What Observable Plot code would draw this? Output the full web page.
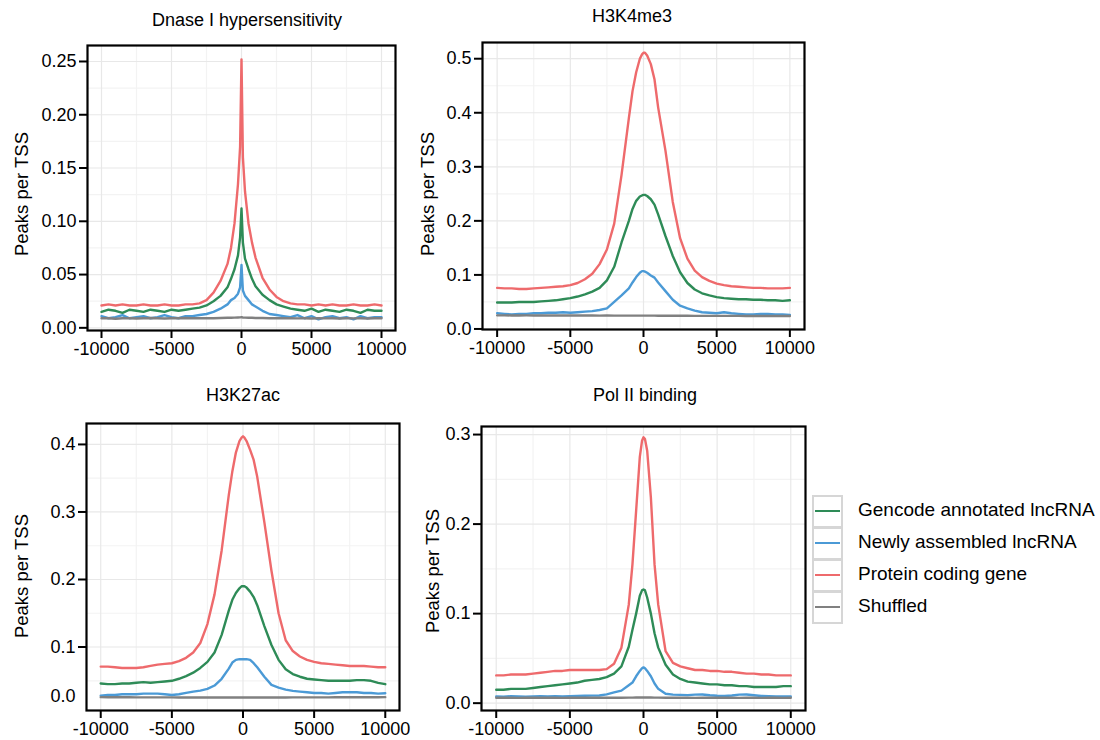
<!DOCTYPE html>
<html><head><meta charset="utf-8">
<script src="https://cdn.jsdelivr.net/npm/d3@7"></script>
<script src="https://cdn.jsdelivr.net/npm/@observablehq/plot@0.6"></script>
<style>
body{margin:0;background:#fff;font-family:"Liberation Sans",Arial,sans-serif;color:#000}
#root{position:relative;width:1100px;height:740px;overflow:hidden;background:#fff}
.panel{position:absolute}
.panel svg{background:transparent}
.title{position:absolute;font-size:18px;transform:translate(-50%,-50%);white-space:nowrap}
.ylab{position:absolute;font-size:18.5px;transform:translate(-50%,-50%) rotate(-90deg);white-space:nowrap}
#legend{position:absolute;left:812px;top:494px}
.lrow{display:flex;align-items:center;height:32px}
.lkey{width:27px;height:29px;border:2px solid #d6d6d6;margin-bottom:-2px;position:relative;background:#fff}
.lkey span{position:absolute;left:1px;right:1px;top:13px;height:2.4px}
.ltext{font-size:19px;margin-left:15px;white-space:nowrap}
</style></head><body><div id="root"></div>
<script>
// Distance from TSS (bp)
const positions = [-10000,-9500,-9000,-8500,-8000,-7500,-7000,-6500,-6000,-5500,-5000,-4500,-4000,-3500,-3000,-2500,-2000,-1500,-1000,
  -750,-500,-250,-100,0,100,250,500,750,
  1000,1500,2000,2500,3000,3500,4000,4500,5000,5500,6000,6500,7000,7500,8000,8500,9000,9500,10000];

const seriesNames = ["Gencode annotated lncRNA","Newly assembled lncRNA","Protein coding gene","Shuffled"];
const seriesColors = ["#2e8b57","#4b9ad6","#ee6a6c","#808080"];
const panelTitles = ["Dnase I hypersensitivity","H3K4me3","H3K27ac","Pol II binding"];
const yAxisLabel = "Peaks per TSS";
const xTicks = [-10000,-5000,0,5000,10000];
const xMinorTicks = [-7500,-2500,2500,7500];

// Dnase I hypersensitivity
const dnaseGencode = [.015,.017,.016,.014,.017,.016,.015,.017,.016,.015,.017,.016,.017,.018,.019,.021,.025,.030,.038,
  .046,.055,.068,.085,.112,.080,.065,.055,.046,
  .039,.031,.026,.022,.020,.018,.017,.016,.018,.015,.017,.016,.015,.017,.016,.014,.017,.016,.016];
const dnaseNewly = [.011,.009,.010,.012,.009,.010,.011,.009,.010,.012,.010,.009,.011,.011,.012,.013,.015,.018,.022,
  .026,.028,.032,.038,.059,.035,.030,.026,.022,
  .020,.016,.013,.012,.011,.010,.012,.009,.011,.008,.010,.011,.009,.010,.008,.011,.009,.010,.010];
const dnaseProtein = [.021,.022,.021,.022,.021,.021,.022,.021,.021,.022,.021,.021,.022,.022,.023,.026,.033,.044,.060,
  .075,.098,.135,.170,.252,.160,.128,.098,.080,
  .066,.047,.036,.029,.025,.023,.022,.022,.021,.022,.021,.022,.021,.021,.022,.021,.021,.022,.021];
const dnaseShuffled = [.009,.009,.0085,.009,.009,.0088,.009,.0092,.009,.0088,.009,.009,.0092,.009,.009,.0091,.009,.0092,.0095,
  .0095,.0096,.0097,.0098,.010,.0097,.0096,.0095,.0094,
  .0093,.0092,.009,.009,.0091,.009,.0089,.009,.0088,.009,.0089,.009,.0088,.009,.0089,.009,.0088,.009,.009];

// H3K4me3
const k4Gencode = [.049,.049,.049,.050,.050,.050,.051,.052,.053,.055,.057,.060,.064,.069,.076,.090,.115,.160,.200,
  .222,.237,.245,.247,.248,.248,.246,.240,.230,
  .212,.172,.135,.105,.085,.073,.066,.062,.059,.057,.056,.055,.055,.054,.054,.053,.053,.052,.053];
const k4Newly = [.029,.028,.027,.028,.028,.029,.029,.030,.030,.031,.030,.031,.032,.033,.035,.038,.050,.062,.075,
  .086,.096,.104,.107,.107,.106,.104,.099,.095,
  .086,.070,.054,.043,.038,.034,.031,.030,.029,.031,.029,.028,.027,.027,.028,.028,.027,.027,.026];
const k4Protein = [.076,.075,.075,.074,.074,.075,.076,.077,.078,.079,.081,.085,.092,.102,.120,.147,.195,.285,.390,
  .440,.475,.500,.508,.511,.511,.506,.490,.462,
  .410,.330,.235,.168,.130,.108,.096,.089,.084,.081,.079,.078,.077,.076,.076,.075,.075,.075,.076];
const k4Shuffled = [.0252,.0251,.025,.025,.0251,.025,.025,.0249,.025,.0249,.0248,.0249,.0248,.0248,.0247,.0248,.0247,.0247,.0246,
  .0246,.0246,.0246,.0246,.0246,.0246,.0246,.0246,.0246,
  .0245,.0245,.0244,.0244,.0244,.0243,.0243,.0243,.0242,.0242,.0242,.0242,.0241,.0241,.0241,.024,.024,.024,.024];

// H3K27ac
const k27Gencode = [.046,.045,.045,.046,.046,.047,.048,.047,.048,.049,.050,.053,.057,.062,.069,.078,.092,.118,.154,
  .170,.180,.187,.190,.190,.190,.188,.182,.174,
  .162,.131,.103,.081,.067,.060,.056,.053,.052,.051,.050,.050,.050,.050,.051,.051,.050,.047,.045];
const k27Newly = [.028,.029,.029,.030,.030,.030,.031,.031,.031,.030,.029,.030,.032,.034,.0355,.038,.043,.053,.068,
  .077,.081,.082,.082,.082,.082,.082,.081,.076,
  .070,.056,.044,.040,.037,.035,.034,.033,.032,.032,.031,.032,.033,.033,.033,.032,.032,.031,.0316];
const k27Protein = [.071,.071,.070,.069,.069,.069,.070,.072,.074,.075,.076,.079,.084,.092,.106,.134,.178,.243,.325,
  .360,.388,.405,.410,.412,.410,.405,.392,.377,
  .352,.285,.213,.150,.110,.094,.086,.081,.078,.076,.075,.074,.073,.072,.072,.072,.071,.070,.070];
const k27Shuffled = [.0258,.0257,.0257,.0256,.0256,.0255,.0255,.0255,.0254,.0254,.0254,.0253,.0253,.0253,.0252,.0252,.0252,.0252,.0252,
  .0252,.0252,.0252,.0252,.0252,.0252,.0252,.0252,.0252,
  .0252,.0252,.0253,.0253,.0253,.0254,.0254,.0254,.0255,.0255,.0255,.0256,.0256,.0256,.0257,.0257,.0257,.0257,.0258];

// Pol II binding
const polGencode = [.015,.015,.016,.016,.016,.017,.018,.019,.020,.021,.022,.023,.025,.026,.027,.029,.033,.041,.063,
  .082,.100,.120,.126,.127,.126,.118,.100,.078,
  .062,.043,.032,.027,.024,.023,.022,.021,.021,.020,.020,.019,.019,.018,.018,.018,.018,.019,.019];
const polNewly = [.0075,.0072,.0078,.0075,.0073,.0076,.0078,.0074,.0077,.0075,.0078,.008,.0082,.0084,.0086,.0098,.012,.014,.020,
  .023,.030,.036,.039,.040,.039,.036,.030,.022,
  .016,.0105,.0095,.0092,.009,.0095,.0097,.0088,.0082,.008,.0085,.0095,.0097,.0088,.008,.0078,.0076,.0075,.0075];
const polProtein = [.031,.031,.032,.032,.032,.033,.034,.035,.036,.036,.037,.037,.037,.037,.037,.038,.044,.062,.110,
  .155,.215,.275,.293,.297,.295,.282,.230,.155,
  .110,.058,.045,.041,.039,.037,.037,.036,.036,.035,.035,.034,.033,.033,.032,.032,.031,.031,.031];
const polShuffled = [.006,.0061,.006,.0059,.006,.006,.0061,.006,.006,.0059,.006,.006,.006,.0061,.006,.006,.0061,.006,.0062,
  .0062,.0063,.0063,.0064,.0064,.0064,.0063,.0063,.0062,
  .0062,.0061,.006,.006,.006,.0059,.006,.006,.0061,.006,.006,.0059,.006,.006,.0059,.006,.006,.0059,.006];

// Y tick labels per panel
const dnaseYTicks = [0,0.05,0.10,0.15,0.20,0.25];
const k4YTicks = [0,0.1,0.2,0.3,0.4,0.5];
const k27YTicks = [0.1,0.2,0.3,0.4];
const polYTicks = [0,0.1,0.2,0.3];

const root = document.getElementById("root");
const font = "'Liberation Sans', Arial, sans-serif";

const panels = [
  {title: panelTitles[0], series: [dnaseGencode,dnaseNewly,dnaseProtein,dnaseShuffled], yTicks: dnaseYTicks,
   yMinor: [0.025,0.075,0.125,0.175,0.225], yDomain: [-0.0025,0.265], fmt: d3.format(".2f"),
   left: 0, top: 0, ml: 87, mr: 25, mt: 45, mb: 40, tx: 247, ty: 20, lx: 22, ly: 194},
  {title: panelTitles[1], series: [k4Gencode,k4Newly,k4Protein,k4Shuffled], yTicks: k4YTicks,
   yMinor: [0.05,0.15,0.25,0.35,0.45], yDomain: [-0.001,0.53], fmt: d3.format(".1f"),
   left: 420, top: 0, ml: 62, mr: 36, mt: 42, mb: 41, tx: 632, ty: 16, lx: 428, ly: 194},
  {title: panelTitles[2], series: [k27Gencode,k27Newly,k27Protein,k27Shuffled], yTicks: k27YTicks,
   yMinor: [0.05,0.15,0.25,0.35], yDomain: [0.006,0.431], fmt: d3.format(".1f"), extraZero: true,
   left: 0, top: 370, ml: 86, mr: 21, mt: 53, mb: 30, tx: 243, ty: 395, lx: 22, ly: 576},
  {title: panelTitles[3], series: [polGencode,polNewly,polProtein,polShuffled], yTicks: polYTicks,
   yMinor: [0.05,0.15,0.25], yDomain: [-0.0082,0.309], fmt: d3.format(".1f"),
   left: 420, top: 370, ml: 61, mr: 35, mt: 56, mb: 30, tx: 645, ty: 395, lx: 433, ly: 571}
];

for (const p of panels) {
  const rows = [];
  p.series.forEach((vals, i) => vals.forEach((v, j) => rows.push({x: positions[j], y: v, s: seriesNames[i]})));
  const marks = [
    Plot.gridX(xMinorTicks, {stroke: "#f3f3f3", strokeOpacity: 1, strokeWidth: 1.2}),
    Plot.gridY(p.yMinor, {stroke: "#f3f3f3", strokeOpacity: 1, strokeWidth: 1.2}),
    Plot.gridX(xTicks, {stroke: "#e8e8e8", strokeOpacity: 1, strokeWidth: 1.2}),
    Plot.gridY(p.yTicks, {stroke: "#e8e8e8", strokeOpacity: 1, strokeWidth: 1.2}),
    Plot.line(rows, {x: "x", y: "y", z: "s", stroke: "s", strokeWidth: 2.4}),
    Plot.frame({stroke: "#000", strokeWidth: 2.2}),
    Plot.axisX(xTicks, {tickSize: 8, tickPadding: 4, strokeWidth: 2, tickFormat: d => String(d), fontSize: 18, label: null}),
    Plot.axisY(p.yTicks, {tickSize: 8, tickPadding: 3, strokeWidth: 2, tickFormat: p.fmt, fontSize: 18, label: null})
  ];
  if (p.extraZero) {
    marks.push(Plot.text(["0.0"], {text: d => d, frameAnchor: "bottom-left", dx: -11, dy: -9, textAnchor: "end", fontSize: 18}));
  }
  const svg = Plot.plot({
    width: 420, height: 370,
    marginLeft: p.ml, marginRight: p.mr, marginTop: p.mt, marginBottom: p.mb,
    x: {domain: [-11000, 11000], label: null},
    y: {domain: p.yDomain, label: null},
    color: {domain: seriesNames, range: seriesColors},
    style: {fontFamily: font, fontSize: "18px", color: "#000", background: "transparent", overflow: "visible"},
    marks
  });
  const div = document.createElement("div");
  div.className = "panel";
  div.style.left = p.left + "px";
  div.style.top = p.top + "px";
  div.appendChild(svg);
  root.appendChild(div);

  const t = document.createElement("div");
  t.className = "title";
  t.style.left = p.tx + "px"; t.style.top = p.ty + "px";
  t.textContent = p.title;
  root.appendChild(t);

  const yl = document.createElement("div");
  yl.className = "ylab";
  yl.style.left = p.lx + "px"; yl.style.top = p.ly + "px";
  yl.textContent = yAxisLabel;
  root.appendChild(yl);
}

// Legend
const legend = document.createElement("div");
legend.id = "legend";
seriesNames.forEach((name, i) => {
  const row = document.createElement("div");
  row.className = "lrow";
  const key = document.createElement("div");
  key.className = "lkey";
  const line = document.createElement("span");
  line.style.background = seriesColors[i];
  key.appendChild(line);
  const txt = document.createElement("div");
  txt.className = "ltext";
  txt.textContent = name;
  row.appendChild(key);
  row.appendChild(txt);
  legend.appendChild(row);
});
root.appendChild(legend);
</script></body></html>
